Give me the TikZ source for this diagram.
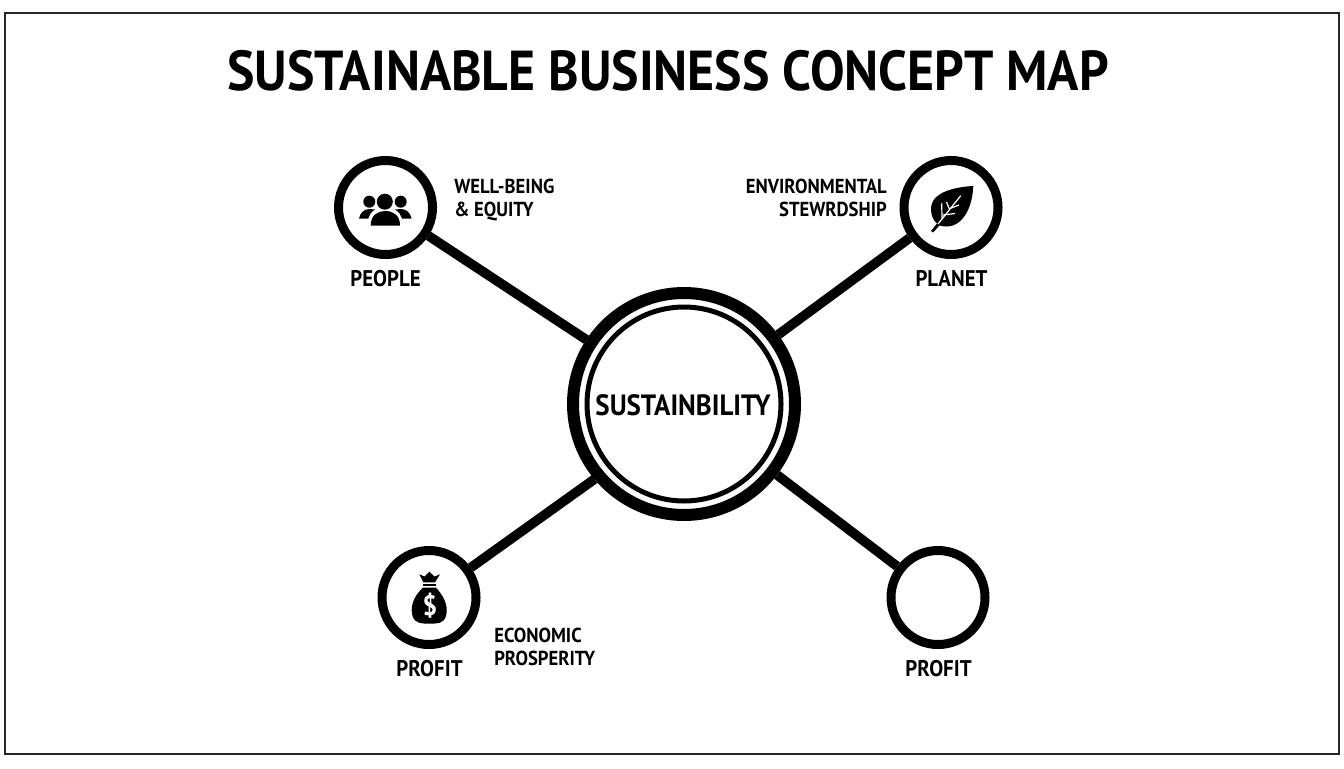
\documentclass[tikz,border=0pt]{standalone}
\usepackage{fontspec}
\setmainfont[FakeStretch=0.92]{PT Sans}
\usetikzlibrary{positioning}
\tikzset{
  hub/.style={circle,draw,fill=white,inner sep=0pt,line width=6.75pt,minimum size=70.5pt},
  spoke/.style={line width=7.2pt},
  vein/.style={white,line width=.9pt},
  pillar/.style={font=\bfseries\fontsize{17}{20}\selectfont},
  note/.style={font=\bfseries\fontsize{15.2}{17.25}\selectfont,inner sep=0pt}
}
\begin{document}
\begin{tikzpicture}[x=.75pt,y=-.75pt]
\useasboundingbox (0,0) rectangle (1344,768);
\draw[line width=1.1pt,draw=black!85] (5,13) rectangle (1339,754);
\node[font=\bfseries\fontsize{42.2}{50}\selectfont] (title) at (668,71) {SUSTAINABLE BUSINESS CONCEPT MAP};

\node[circle,draw,fill=white,inner sep=0pt,line width=9pt,minimum size=166.5pt] (core) at (684,404) {};
\node[circle,draw,inner sep=0pt,line width=3.75pt,minimum size=145.5pt] (coreinner) at (684,404) {};
\node[font=\bfseries\fontsize{22}{26}\selectfont,inner sep=0pt] (corelabel) at (683,405) {SUSTAINBILITY};

\node[hub] (people) at (385.5,207.5) {};
\node[hub] (planet) at (951,207.5) {};
\node[hub] (profit) at (429,597.5) {};
\node[hub] (profitb) at (938,597.5) {};

\draw[spoke] (people) -- (core);
\draw[spoke] (planet) -- (core);
\draw[spoke] (profit) -- (core.220);
\draw[spoke] (profitb) -- (core);

\node[pillar] (peoplelabel) at (385.5,279) {PEOPLE};
\node[pillar] (planetlabel) at (951.5,279) {PLANET};
\node[pillar] (profitlabel) at (429.5,669) {PROFIT};
\node[pillar] (profitblabel) at (938.5,669) {PROFIT};

\node[note,align=left,anchor=west] (peoplenote) at (454,199.5) {WELL-BEING\\\& EQUITY};
\node[note,align=right,anchor=east] (planetnote) at (887,197.5) {ENVIRONMENTAL\\STEWRDSHIP};
\node[note,align=left,anchor=west] (profitnote) at (494,646.5) {ECONOMIC\\PROSPERITY};

\fill (369.3,201.7) circle (6);
\fill (400.7,201.7) circle (6);
\fill (384.8,201.7) circle (8);
\fill (359,218.5) .. controls (360,213) and (364,209) .. (369.3,209) -- (375,209.5) .. controls (371,212) and (369,215) .. (368.3,218.5) -- cycle;
\fill (411.5,218.5) .. controls (410.5,213) and (406.5,209) .. (401,209) -- (395,209.5) .. controls (399,212) and (401,215) .. (402,218.5) -- cycle;
\fill (370.7,225.5) .. controls (370.7,215) and (378,211) .. (385.3,211) .. controls (393,211) and (400,215) .. (400,225.5) -- cycle;

\fill (973.3,186) .. controls (955,187) and (931,192) .. (931,209) .. controls (931,215) and (933,220) .. (937,223.5) -- (931,231) -- (933,232.5) -- (939.5,225.5) .. controls (958,231) and (972,214) .. (973.3,186) -- cycle;
\draw[vein] (938,224) -- (960.7,195.7);
\draw[vein] (942,218.5) -- (941.7,203.3);
\draw[vein] (943,215) -- (955,213.5);
\draw[vein] (949.5,209.5) -- (946.5,202);
\draw[vein] (950,208.5) -- (959,205);

\fill (419.3,574.3) -- (424.5,576.5) -- (429.3,571.7) -- (434.5,576.5) -- (440,574.3) -- (435,582.3) -- (423.3,582.3) -- cycle;
\fill (423.3,584) rectangle (435.5,586);
\fill (423,587.7) .. controls (416,594) and (411.7,602) .. (411.7,610) .. controls (411.7,620) and (417,623.5) .. (424,623.5) -- (435,623.5) .. controls (442,623.5) and (446.7,620) .. (446.7,610) .. controls (446.7,602) and (442,594) .. (436,587.7) -- cycle;
\node[text=white,font=\bfseries\fontsize{21}{24}\selectfont,inner sep=0pt] (dollar) at (429.8,605.7) {\$};
\end{tikzpicture}
\end{document}
